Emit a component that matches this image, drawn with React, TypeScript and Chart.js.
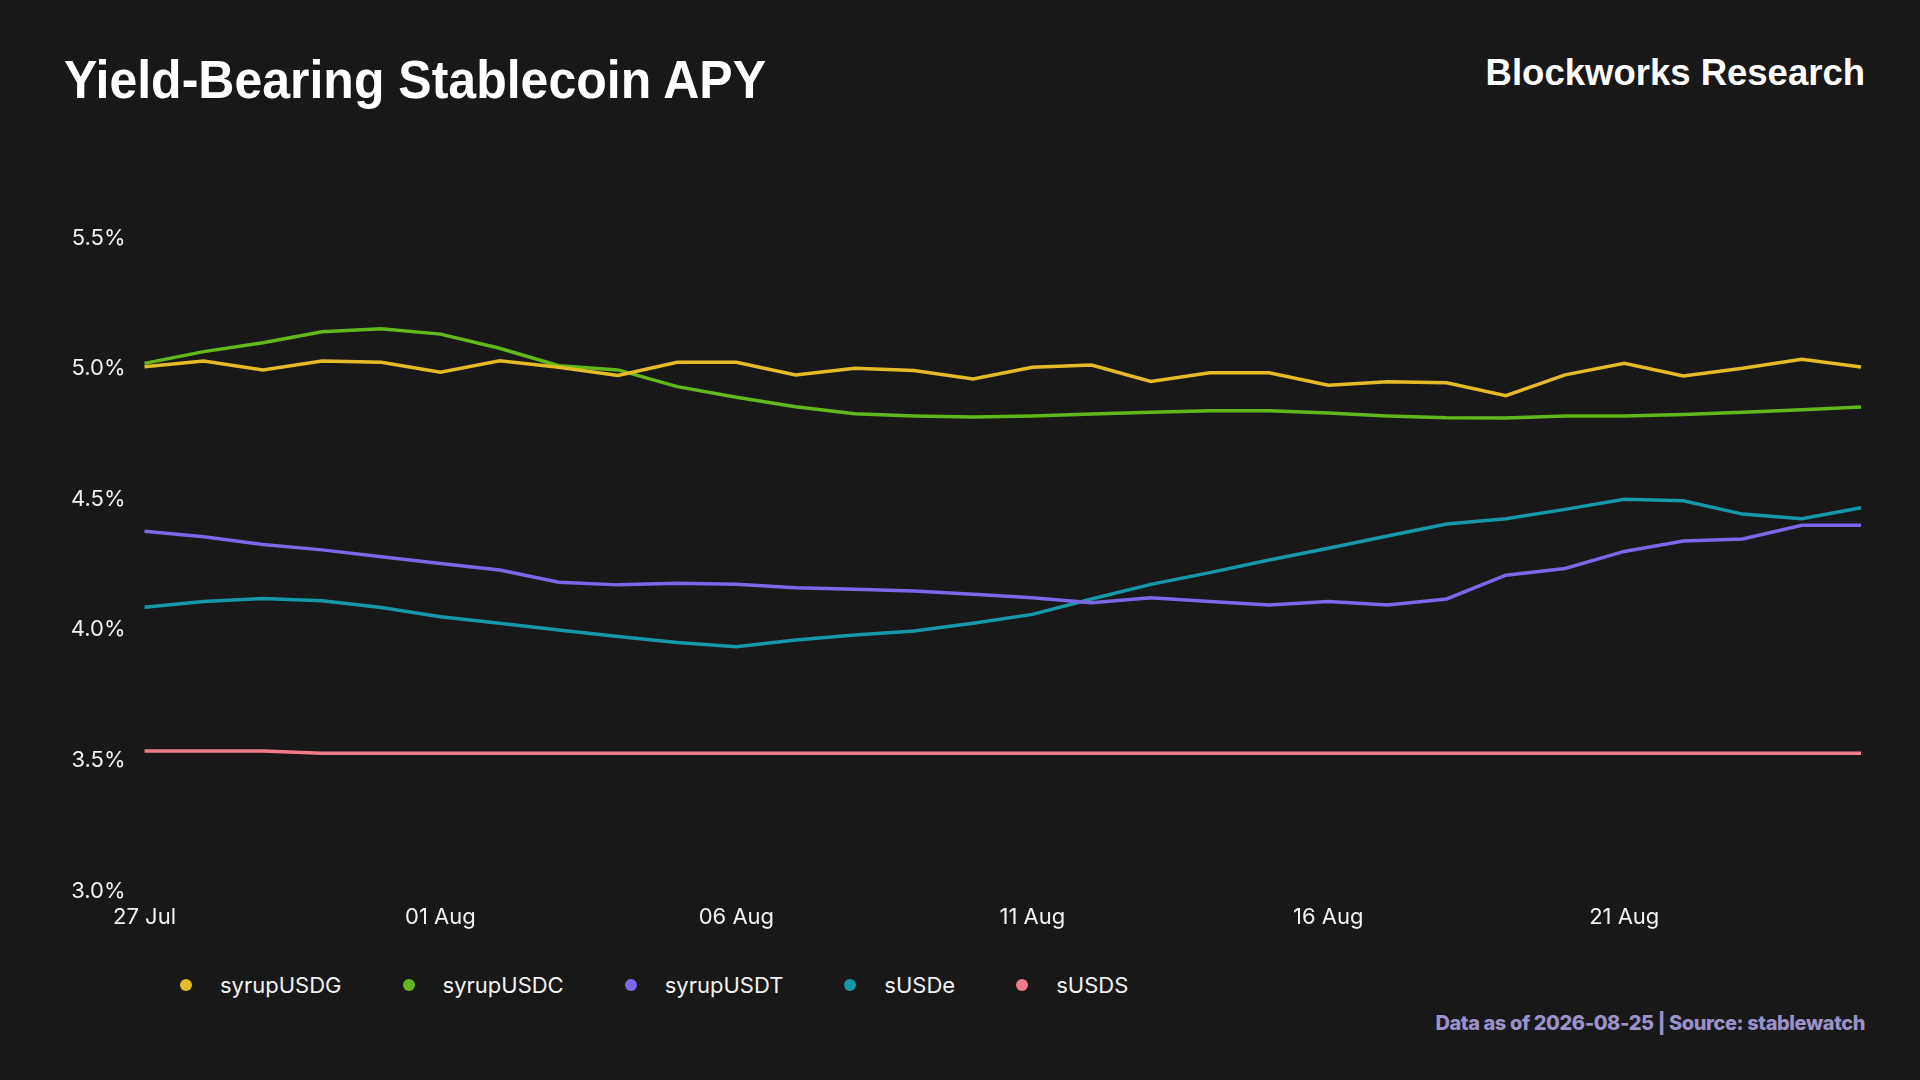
import { useEffect, useRef } from "react";
import Chart from "chart.js/auto";

const dates = [
  "27 Jul", "28 Jul", "29 Jul", "30 Jul", "31 Jul",
  "01 Aug", "02 Aug", "03 Aug", "04 Aug", "05 Aug",
  "06 Aug", "07 Aug", "08 Aug", "09 Aug", "10 Aug",
  "11 Aug", "12 Aug", "13 Aug", "14 Aug", "15 Aug",
  "16 Aug", "17 Aug", "18 Aug", "19 Aug", "20 Aug",
  "21 Aug", "22 Aug", "23 Aug", "24 Aug", "25 Aug",
];

const syrupUSDG = [
  5.007, 5.029, 4.995, 5.029, 5.024, 4.986, 5.03, 5.005, 4.974, 5.024,
  5.024, 4.976, 5.001, 4.993, 4.96, 5.005, 5.014, 4.951, 4.984, 4.984,
  4.936, 4.95, 4.946, 4.896, 4.976, 5.02, 4.972, 5.001, 5.036, 5.006,
];
const syrupUSDC = [
  5.02, 5.065, 5.099, 5.141, 5.153, 5.132, 5.078, 5.011, 4.995, 4.931,
  4.89, 4.854, 4.827, 4.819, 4.815, 4.819, 4.826, 4.833, 4.839, 4.839,
  4.83, 4.819, 4.812, 4.811, 4.819, 4.819, 4.824, 4.833, 4.842, 4.853,
];
const syrupUSDT = [
  4.377, 4.356, 4.327, 4.306, 4.28, 4.254, 4.229, 4.182, 4.172, 4.178,
  4.174, 4.161, 4.155, 4.149, 4.136, 4.123, 4.104, 4.123, 4.108, 4.095,
  4.108, 4.095, 4.118, 4.209, 4.235, 4.3, 4.34, 4.348, 4.4, 4.4,
];
const sUSDe = [
  4.086, 4.108, 4.12, 4.111, 4.085, 4.05, 4.025, 3.999, 3.974, 3.951,
  3.935, 3.961, 3.98, 3.995, 4.025, 4.059, 4.118, 4.174, 4.219, 4.267,
  4.312, 4.359, 4.405, 4.425, 4.461, 4.5, 4.494, 4.443, 4.425, 4.467,
];
const sUSDS = [
  3.536, 3.536, 3.536, 3.527, 3.527, 3.527, 3.527, 3.527, 3.527, 3.527,
  3.527, 3.527, 3.527, 3.527, 3.527, 3.527, 3.527, 3.527, 3.527, 3.527,
  3.527, 3.527, 3.527, 3.527, 3.527, 3.527, 3.527, 3.527, 3.527, 3.527,
];

const seriesNames = ["syrupUSDG", "syrupUSDC", "syrupUSDT", "sUSDe", "sUSDS"];
const seriesValues = [syrupUSDG, syrupUSDC, syrupUSDT, sUSDe, sUSDS];
const seriesColors = ["#e3bb26", "#62b71b", "#7c66e9", "#1599a8", "#ef7b8c"];

const BG = "#181818";
const FONT = "Inter, 'Noto Sans', sans-serif";

const App = () => {
  const chartRef = useRef<HTMLCanvasElement | null>(null);

  useEffect(() => {
    if (!chartRef.current) return;
    const ctx = chartRef.current.getContext("2d");
    if (!ctx) return;

    const chart = new Chart(ctx, {
      type: "line",
      data: {
        labels: dates,
        datasets: seriesNames.map((name, i) => ({
          label: name,
          data: seriesValues[i],
          borderColor: seriesColors[i],
          backgroundColor: seriesColors[i],
          borderWidth: 3.5,
          pointRadius: 0,
          tension: 0,
        })),
      },
      options: {
        responsive: true,
        maintainAspectRatio: false,
        animation: false,
        layout: { padding: { top: 238, right: 59, bottom: 0, left: 0 } },
        plugins: {
          legend: { display: false },
          tooltip: { enabled: false },
        },
        scales: {
          x: {
            type: "category",
            offset: false,
            grid: { display: false, drawTicks: false },
            border: { display: false },
            afterFit: (scale: any) => {
              scale.height = 69;
            },
            ticks: {
              autoSkip: false,
              maxRotation: 0,
              minRotation: 0,
              padding: 13,
              color: "#f2f2f2",
              font: { family: FONT, size: 22 },
              callback: (_v: any, i: number) => (i % 5 === 0 ? dates[i] : ""),
            },
          },
          y: {
            min: 3,
            max: 5.5,
            grid: { display: false, drawTicks: false },
            border: { display: false },
            afterFit: (scale: any) => {
              scale.width = 144.5;
            },
            ticks: {
              stepSize: 0.5,
              padding: 19,
              color: "#f2f2f2",
              font: { family: FONT, size: 22 },
              callback: (v: any) => Number(v).toFixed(1) + "%",
            },
          },
        },
      },
    });

    return () => {
      chart.destroy();
    };
  }, []);

  return (
    <div
      style={{
        position: "fixed",
        left: 0,
        top: 0,
        width: 1920,
        height: 1080,
        background: BG,
        overflow: "hidden",
      }}
    >
      <div
        style={{
          position: "absolute",
          left: 64,
          top: 52,
          fontFamily: "'Liberation Sans', Arial, sans-serif",
          fontWeight: 700,
          fontSize: 54,
          lineHeight: 1,
          color: "#ffffff",
          whiteSpace: "nowrap",
          transform: "scaleX(0.926)",
          transformOrigin: "left top",
        }}
      >
        Yield-Bearing Stablecoin APY
      </div>
      <div
        style={{
          position: "absolute",
          right: 55,
          top: 55,
          fontFamily: "'Liberation Sans', Arial, sans-serif",
          fontWeight: 700,
          fontSize: 36.5,
          lineHeight: 1,
          color: "#ffffff",
          whiteSpace: "nowrap",
        }}
      >
        Blockworks Research
      </div>

      <div style={{ position: "absolute", left: 0, top: 0, width: 1920, height: 960 }}>
        <canvas ref={chartRef} />
      </div>

      <div
        style={{
          position: "absolute",
          left: 180,
          top: 972,
          display: "flex",
          alignItems: "center",
          gap: 61,
          fontFamily: FONT,
          fontSize: 22,
          color: "#f2f2f2",
          lineHeight: "26px",
        }}
      >
        {seriesNames.map((name, i) => (
          <div key={name} style={{ display: "flex", alignItems: "center" }}>
            <span
              style={{
                width: 12,
                height: 12,
                borderRadius: "50%",
                background: seriesColors[i],
                marginRight: 28,
                display: "inline-block",
              }}
            />
            <span>{name}</span>
          </div>
        ))}
      </div>

      <div
        style={{
          position: "absolute",
          right: 55,
          top: 1013,
          fontFamily: FONT,
          fontWeight: 800,
          fontSize: 20,
          lineHeight: 1,
          color: "#9a92c9",
          whiteSpace: "nowrap",
          letterSpacing: -0.4,
        }}
      >
        Data as of 2026-08-25 | Source: stablewatch
      </div>
    </div>
  );
};

export default App;
